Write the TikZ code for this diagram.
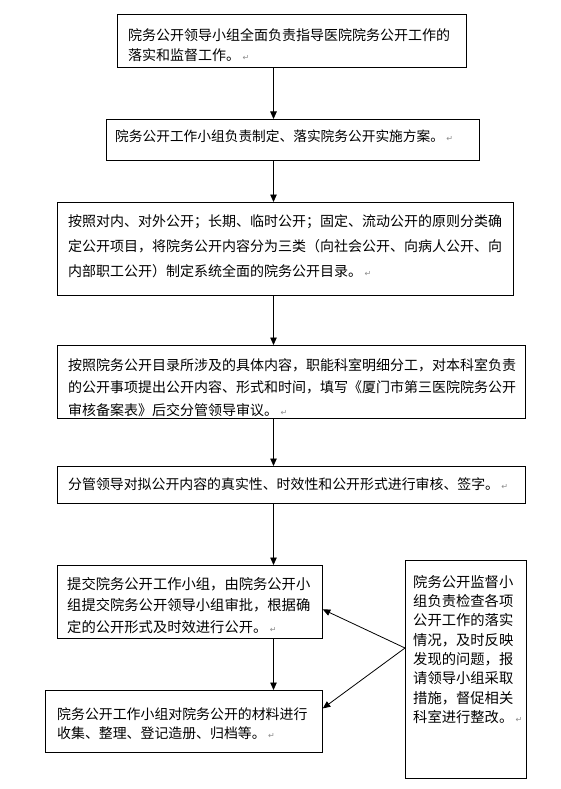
\documentclass[tikz,border=0pt]{standalone}
\usepackage{fontspec}
\newfontfamily\cjk{Noto Sans CJK SC}
\newfontfamily\djv{DejaVu Sans}
\usetikzlibrary{arrows.meta}
\newcommand\retmark{\,{\djv\fontsize{8}{8}\selectfont\color{black!45}↵}}
\begin{document}
\begin{tikzpicture}[x=1pt,y=-1pt,
  box/.style={draw=black, line width=0.8pt, inner sep=0pt, anchor=north west},
  txt/.style={inner sep=0pt, anchor=north west, align=left},
  arr/.style={draw=black, line width=0.8pt, -{Triangle[length=7.5pt,width=6.5pt]}}]
\useasboundingbox[fill=white] (0,0) rectangle (561,789);
% boxes
\node[box, minimum width=349pt, minimum height=53pt] (b1) at (117,14) {};
\node[box, minimum width=373pt, minimum height=41pt] (b2) at (106,119) {};
\node[box, minimum width=456pt, minimum height=93pt] (b3) at (57,202) {};
\node[box, minimum width=468pt, minimum height=73pt] (b4) at (57,345) {};
\node[box, minimum width=468pt, minimum height=37pt] (b5) at (57,466) {};
\node[box, minimum width=265pt, minimum height=73pt] (b6) at (57,565) {};
\node[box, minimum width=277pt, minimum height=62pt] (b7) at (45,690) {};
\node[box, minimum width=121pt, minimum height=218pt] (b8) at (405,560) {};
% texts
\node[txt, font=\cjk\fontsize{14}{20}\selectfont] (t1) at (128,28)
 {院务公开领导小组全面负责指导医院院务公开工作的\\落实和监督工作。\retmark};
\node[txt, font=\cjk\fontsize{13.7}{20}\selectfont] (t2) at (115,130)
 {院务公开工作小组负责制定、落实院务公开实施方案。\retmark};
\node[txt, font=\cjk\fontsize{14}{25}\selectfont] (t3) at (68,214.5)
 {按照对内、对外公开；长期、临时公开；固定、流动公开的原则分类确\\
  定公开项目，将院务公开内容分为三类（向社会公开、向病人公开、向\\
  内部职工公开）制定系统全面的院务公开目录。\retmark};
\node[txt, font=\cjk\fontsize{14}{22.5}\selectfont] (t4) at (68,358)
 {按照院务公开目录所涉及的具体内容，职能科室明细分工，对本科室负责\\
  的公开事项提出公开内容、形式和时间，填写《厦门市第三医院院务公开\\
  审核备案表》后交分管领导审议。\retmark};
\node[txt, font=\cjk\fontsize{13.9}{20}\selectfont] (t5) at (68,478)
 {分管领导对拟公开内容的真实性、时效性和公开形式进行审核、签字。\retmark};
\node[txt, font=\cjk\fontsize{14.3}{21.5}\selectfont] (t6) at (67,577)
 {提交院务公开工作小组，由院务公开小\\
  组提交院务公开领导小组审批，根据确\\
  定的公开形式及时效进行公开。\retmark};
\node[txt, font=\cjk\fontsize{13.9}{19}\selectfont] (t7) at (57,708)
 {院务公开工作小组对院务公开的材料进行\\
  收集、整理、登记造册、归档等。\retmark};
\node[txt, font=\cjk\fontsize{14.3}{19.3}\selectfont] (t8) at (413,575)
 {院务公开监督小\\组负责检查各项\\公开工作的落实\\情况，及时反映\\发现的问题，报\\请领导小组采取\\措施，督促相关\\科室进行整改。\retmark};
% connectors
\coordinate (ax) at (273.5,0);
\coordinate (src) at (405,648);
\draw[arr] (b1.south -| ax) -- (b2.north -| ax);
\draw[arr] (b2.south -| ax) -- (b3.north -| ax);
\draw[arr] (b3.south -| ax) -- (b4.north -| ax);
\draw[arr] (b4.south -| ax) -- (b5.north -| ax);
\draw[arr] (b5.south -| ax) -- (b6.north -| ax);
\draw[arr] (b6.south -| ax) -- (b7.north -| ax);
\draw[arr] (src) -- ([yshift=-7.5pt]b6.east);
\draw[arr] (src) -- ([yshift=13pt]b7.east);
\end{tikzpicture}
\end{document}
